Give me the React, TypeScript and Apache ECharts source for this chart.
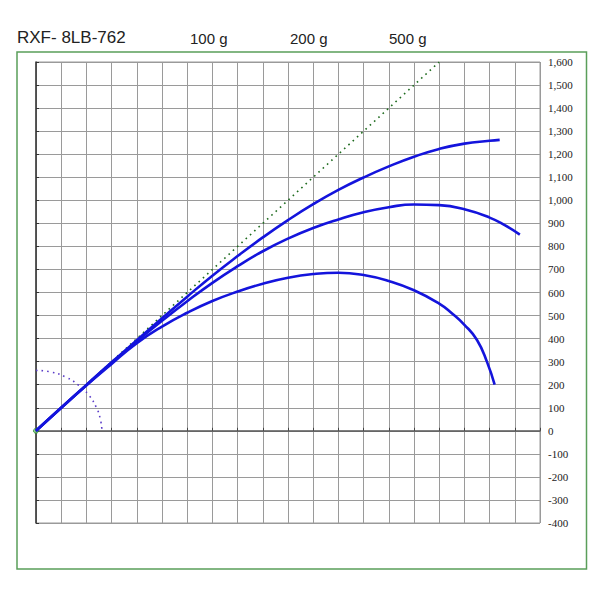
import React, { useEffect, useRef } from "react";
import * as echarts from "echarts";

const titleText = "RXF- 8LB-762";
const seriesNames = ["100 g", "200 g", "500 g"];

const curve100g: [number, number][] = [
  [0, 0], [100, 100], [200, 199], [300, 297], [400, 393], [500, 488], [600, 582],
  [700, 673], [800, 758], [900, 839], [1000, 914], [1100, 983], [1200, 1045],
  [1300, 1099], [1400, 1147], [1500, 1189], [1600, 1223], [1700, 1246],
  [1800, 1258], [1840, 1262],
];

const curve200g: [number, number][] = [
  [0, 0], [100, 100], [200, 198], [300, 295], [400, 388], [500, 477], [600, 562],
  [700, 642], [800, 714], [900, 779], [1000, 834], [1100, 880], [1200, 917],
  [1300, 948], [1400, 970], [1500, 982], [1600, 979], [1700, 961], [1800, 925],
  [1860, 892], [1920, 851],
];

const curve500g: [number, number][] = [
  [0, 0], [100, 100], [200, 197], [300, 290], [400, 380], [500, 452], [600, 512],
  [700, 563], [800, 604], [900, 638], [1000, 664], [1100, 680], [1200, 686],
  [1300, 676], [1400, 650], [1500, 610], [1600, 552], [1650, 510], [1700, 460],
  [1750, 394], [1790, 298], [1820, 200],
];

const diagonal: [number, number][] = [[0, 0], [1600, 1600]];

const quarterArc: [number, number][] = [
  [0, 262], [60, 255], [120, 232], [170, 197], [210, 154], [240, 100], [255, 52], [262, 0],
];

const origin: [number, number][] = [[0, 0]];

const xMin = 0, xMax = 2000, xStep = 100;
const yMin = -400, yMax = 1600, yStep = 100;

export default function App() {
  const ref = useRef<HTMLDivElement>(null);
  useEffect(() => {
    if (!ref.current) return;
    const chart = echarts.init(ref.current, null, { renderer: "svg" });
    const gridColor = "#9a9a9a";
    const curveStyle = { color: "#1414dc", width: 2.6 };
    const titleFont = "'Liberation Sans', Arial, sans-serif";
    chart.setOption({
      animation: false,
      backgroundColor: "#ffffff",
      grid: {
        left: 36, top: 62, width: 504, height: 461,
        show: true, borderColor: gridColor, borderWidth: 1,
      },
      xAxis: {
        type: "value", min: xMin, max: xMax, interval: xStep,
        axisLabel: { show: false },
        axisLine: { show: true, onZero: true, lineStyle: { color: "#555", width: 1.5 } },
        axisTick: { show: true, inside: true, length: 3, lineStyle: { color: "#444" } },
        splitLine: { show: true, lineStyle: { color: gridColor, width: 1 } },
      },
      yAxis: [
        {
          type: "value", min: yMin, max: yMax, interval: yStep, position: "right",
          axisLine: { show: false },
          axisTick: { show: false },
          axisLabel: {
            margin: 8, color: "#222",
            fontFamily: "'Liberation Serif', 'Times New Roman', serif", fontSize: 11,
            formatter: (v: number) => v.toLocaleString("en-US"),
          },
          splitLine: { show: true, lineStyle: { color: gridColor, width: 1 } },
        },
        {
          type: "value", min: yMin, max: yMax, interval: yStep, position: "left",
          axisLine: { show: true, onZero: false, lineStyle: { color: "#333", width: 1.5 } },
          axisTick: { show: true, inside: true, length: 3, lineStyle: { color: "#333" } },
          axisLabel: { show: false },
          splitLine: { show: false },
        },
      ],
      graphic: [
        {
          type: "rect", shape: { x: 17, y: 52, width: 569.5, height: 517 },
          style: { fill: "none", stroke: "#5a9e5a", lineWidth: 1.5 }, silent: true,
        },
        {
          type: "text", x: 17, y: 37,
          style: { text: titleText, fontSize: 17, fontFamily: titleFont, fill: "#222", verticalAlign: "middle" },
        },
        {
          type: "text", x: 190, y: 38,
          style: { text: seriesNames[0], fontSize: 15, fontFamily: titleFont, fill: "#222", verticalAlign: "middle" },
        },
        {
          type: "text", x: 290, y: 38,
          style: { text: seriesNames[1], fontSize: 15, fontFamily: titleFont, fill: "#222", verticalAlign: "middle" },
        },
        {
          type: "text", x: 389, y: 38,
          style: { text: seriesNames[2], fontSize: 15, fontFamily: titleFont, fill: "#222", verticalAlign: "middle" },
        },
      ],
      series: [
        {
          type: "line", data: diagonal, symbol: "none",
          lineStyle: { color: "#1d6a1d", width: 1.6, type: [1.6, 4.2] },
        },
        {
          type: "line", data: quarterArc, smooth: true, symbol: "none",
          lineStyle: { color: "#5a3cc8", width: 1.6, type: [1.6, 4] },
        },
        { name: seriesNames[0], type: "line", data: curve100g, smooth: 0.5, symbol: "none", lineStyle: curveStyle },
        { name: seriesNames[1], type: "line", data: curve200g, smooth: 0.5, symbol: "none", lineStyle: curveStyle },
        { name: seriesNames[2], type: "line", data: curve500g, smooth: 0.5, symbol: "none", lineStyle: curveStyle },
        {
          type: "scatter", data: origin, symbol: "circle", symbolSize: 5,
          itemStyle: { color: "#7ec87e", borderColor: "#2a8a2a", borderWidth: 1 },
        },
      ],
    });
    return () => chart.dispose();
  }, []);
  return (
    <div
      ref={ref}
      style={{ position: "fixed", left: 0, top: 0, width: 600, height: 600 }}
    />
  );
}
